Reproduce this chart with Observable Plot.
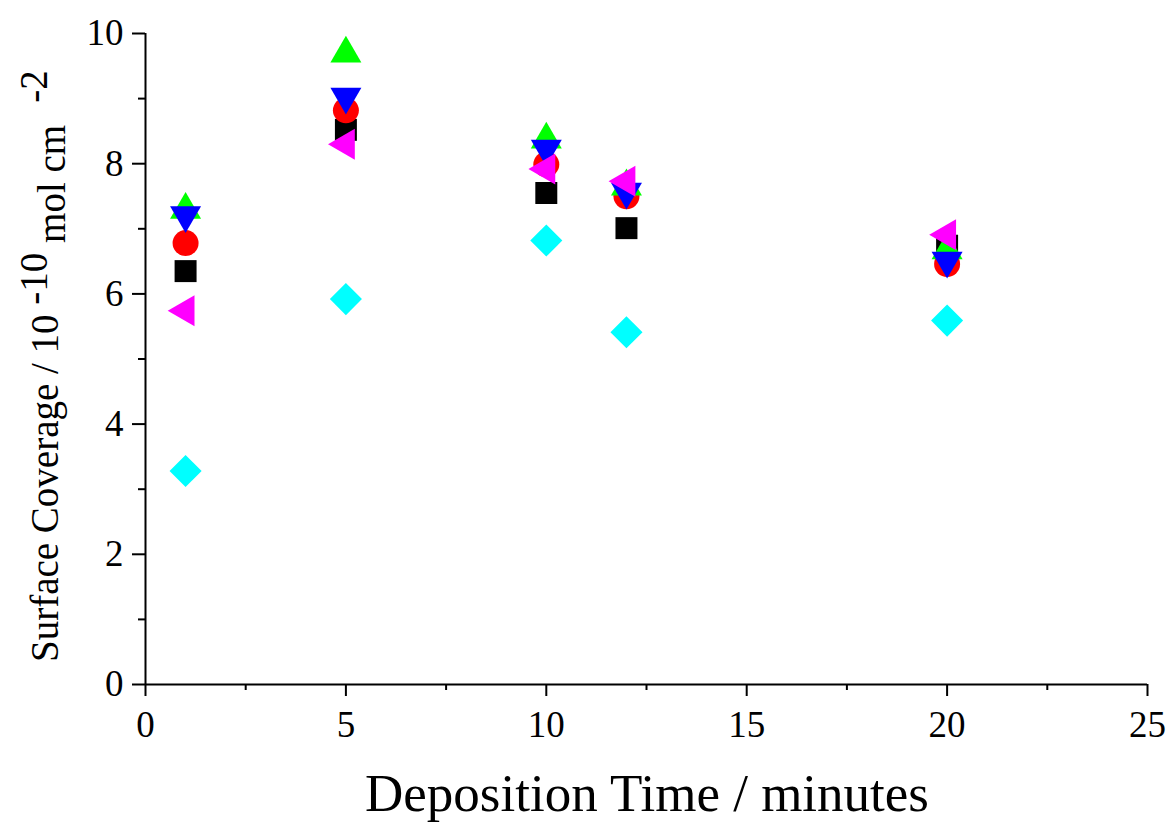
<!DOCTYPE html>
<html><head><meta charset="utf-8">
<script src="https://cdn.jsdelivr.net/npm/d3@7"></script>
<script src="https://cdn.jsdelivr.net/npm/@observablehq/plot@0.6"></script>
<style>body{margin:0;background:#fff}#chart svg{display:block}</style>
</head><body><div id="chart"></div>
<script>
// ---- data ----
const times = [1, 5, 10, 12, 20];
const blackSquare = [6.35, 8.52, 7.55, 7.01, 6.74];
const redCircle   = [6.78, 8.82, 7.99, 7.50, 6.46];
const greenUp     = [7.29, 9.69, 8.37, 7.65, 6.67];
const blueDown    = [7.21, 9.03, 8.23, 7.57, 6.51];
const cyanDiamond = [3.28, 5.92, 6.82, 5.41, 5.59];
const magentaLeft = [5.74, 8.30, 7.92, 7.73, 6.91];
const xTicks = [0, 5, 10, 15, 20, 25];
const xMinorTicks = [2.5, 7.5, 12.5, 17.5, 22.5];
const yTicks = [0, 2, 4, 6, 8, 10];
const yMinorTicks = [1, 3, 5, 7, 9];
const xTitle = "Deposition Time / minutes";

// ---- styles (draw order: last on top) ----
const series = [
  {values: blackSquare, symbol: "square",   fill: "#000000", rotate: 0,   r: 12.4},
  {values: redCircle,   symbol: "circle",   fill: "#ff0000", rotate: 0,   r: 13},
  {values: greenUp,     symbol: "triangle", fill: "#00ff00", rotate: 0,   r: 11.5},
  {values: blueDown,    symbol: "triangle", fill: "#0000ff", rotate: 180, r: 11.5},
  {values: cyanDiamond, symbol: "square",   fill: "#00ffff", rotate: 45,  r: 12.8},
  {values: magentaLeft, symbol: "triangle", fill: "#ff00ff", rotate: -90, r: 11.5}
];

const dotMarks = series.map(s =>
  Plot.dot(times.map((t, i) => ({t, v: s.values[i]})), {
    x: "t", y: "v", symbol: s.symbol, fill: s.fill, stroke: "none",
    rotate: s.rotate, r: s.r
  })
);

const chart = Plot.plot({
  width: 1171, height: 822,
  marginLeft: 145, marginRight: 24, marginTop: 33, marginBottom: 138,
  style: {fontFamily: "'Liberation Serif', 'Times New Roman', serif", background: "#fff", color: "#000"},
  x: {domain: [0, 25]},
  y: {domain: [0, 10]},
  marks: [
    Plot.axisX({ticks: xTicks, tickSize: 12, tickPadding: 14, fontSize: 37, label: null, strokeWidth: 2}),
    Plot.axisX({ticks: xMinorTicks, tickSize: 6, text: null, label: null, strokeWidth: 2}),
    Plot.axisY({ticks: yTicks, tickSize: 13, tickPadding: 9, fontSize: 37, label: null, strokeWidth: 2}),
    Plot.axisY({ticks: yMinorTicks, tickSize: 7, text: null, label: null, strokeWidth: 2}),
    Plot.ruleY([0], {strokeWidth: 2}),
    Plot.ruleX([0], {strokeWidth: 2}),
    ...dotMarks
  ]
});

document.getElementById("chart").appendChild(chart);

const svg = d3.select(chart);
svg.append("text")
  .attr("x", 647).attr("y", 811)
  .attr("text-anchor", "middle")
  .attr("font-size", 53)
  .attr("fill", "#000")
  .text(xTitle);

const yt = svg.append("text")
  .attr("transform", "translate(58,662) rotate(-90)")
  .attr("text-anchor", "start")
  .attr("font-size", 39)
  .attr("fill", "#000");
yt.append("tspan").text("Surface Coverage / 10 ");
yt.append("tspan").attr("dy", -11).text("-10 ");
yt.append("tspan").attr("dy", 18).text("mol cm");
yt.append("tspan").attr("dy", -18).attr("dx", 22).text("-2");
</script>
</body></html>
